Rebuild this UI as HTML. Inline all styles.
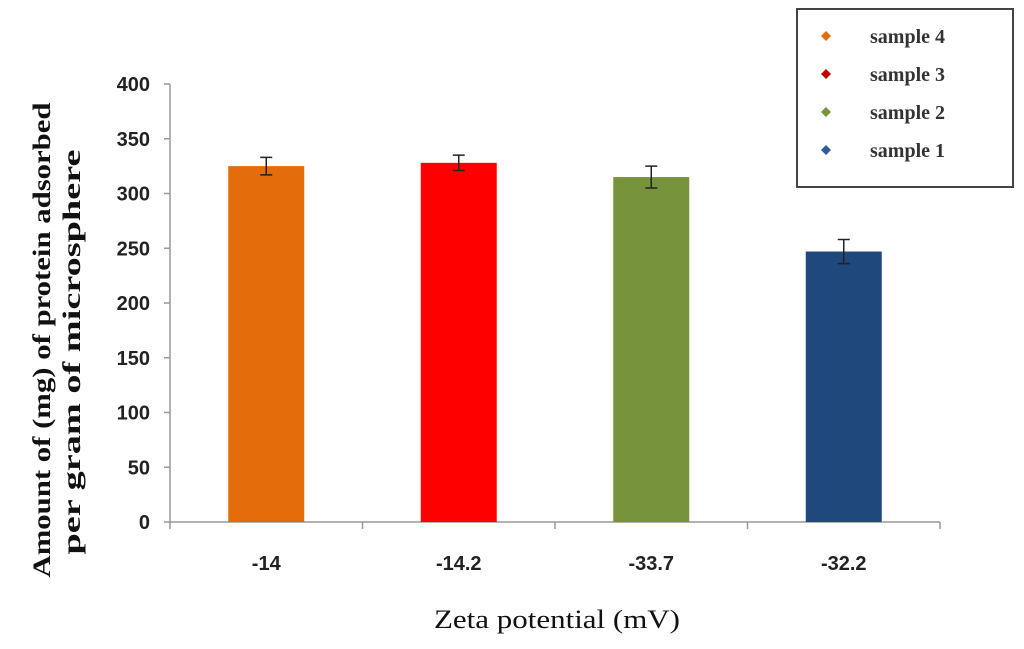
<!DOCTYPE html>
<html><head><meta charset="utf-8"><style>
body{margin:0;background:#fff;width:1024px;height:649px;overflow:hidden}
svg{display:block}
text{font-family:"Liberation Sans",sans-serif}
</style></head><body>
<svg id="chart" width="1024" height="649">
<g id="plot"></g>
<text x="557" y="628" text-anchor="middle" font-size="26" fill="#111" textLength="246" lengthAdjust="spacingAndGlyphs" style="font-family:'Liberation Serif',serif">Zeta potential (mV)</text>
<text transform="translate(50,340) rotate(-90)" text-anchor="middle" font-size="25" font-weight="bold" fill="#111" textLength="475" lengthAdjust="spacingAndGlyphs" style="font-family:'Liberation Serif',serif">Amount of (mg) of protein adsorbed</text>
<text transform="translate(80,352) rotate(-90)" text-anchor="middle" font-size="25" font-weight="bold" fill="#111" textLength="405" lengthAdjust="spacingAndGlyphs" style="font-family:'Liberation Serif',serif">per gram of microsphere</text>
<g>
<rect x="797" y="9" width="216" height="178" fill="#fff" stroke="#444" stroke-width="2"/>
<g id="legend"></g>
</g>
</svg>
<script>
const categories=["-14","-14.2","-33.7","-32.2"];
const values=[325,328,315,247];
const errors=[8,7,10,11];
const colors=["#e46c0a","#ff0000","#77933c","#1f497d"];
const yTicks=[0,50,100,150,200,250,300,350,400];
const legendLabels=["sample 4","sample 3","sample 2","sample 1"];
const legendColors=["#e46c0a","#c00000","#77933c","#2e5c9e"];
const NS="http://www.w3.org/2000/svg";
const x0=170,x1=940,y0=522,yTop=84,yMax=400;
const y=v=>y0-(v/yMax)*(y0-yTop);
const bw=(x1-x0)/categories.length;
const xc=i=>x0+bw*(i+0.5);
const g=document.getElementById('plot');
function mk(t,a,p){const e=document.createElementNS(NS,t);for(const k in a)e.setAttribute(k,a[k]);(p||g).appendChild(e);return e;}
let ax=mk('line',{x1:x0,y1:yTop,x2:x0,y2:y0,stroke:'#999','stroke-width':1.5});


let bx=mk('line',{x1:x0,y1:y0,x2:x1,y2:y0,stroke:'#999','stroke-width':1.5});


yTicks.forEach(t=>{
 mk('line',{x1:x0-6,x2:x0,y1:y(t),y2:y(t),stroke:'#999','stroke-width':1.5});
 const tx=mk('text',{x:150,y:y(t)+7,'text-anchor':'end','font-size':20,'font-weight':'bold',fill:'#222'});
 tx.textContent=t;
 
 
});
for(let i=0;i<=categories.length;i++)mk('line',{x1:x0+bw*i,x2:x0+bw*i,y1:y0,y2:y0+7,stroke:'#999','stroke-width':1.5});
categories.forEach((c,i)=>{
 const cx=xc(i),w=76;
 const r=mk('rect',{x:cx-w/2,y:y(values[i]),width:w,height:y0-y(values[i]),fill:colors[i]});
 
 
 const hi=y(values[i]+errors[i]),lo=y(values[i]-errors[i]);
 const eb=mk('path',{d:`M${cx},${hi}V${lo}M${cx-6},${hi}H${cx+6}M${cx-6},${lo}H${cx+6}`,stroke:'#222','stroke-width':1.5,fill:'none'});
 
 
 const tx=mk('text',{x:cx,y:y0+48,'text-anchor':'middle','font-size':20,'font-weight':'bold',fill:'#222'});
 tx.textContent=c;
 
 
});
const lg=document.getElementById('legend');
legendLabels.forEach((l,i)=>{
 const yy=36+i*38;
 const d=mk('path',{d:`M826,${yy-5}L831,${yy}L826,${yy+5}L821,${yy}Z`,fill:legendColors[i]},lg);
 
 
 const t=mk('text',{x:870,y:yy+7,'font-size':20,'font-weight':'bold',fill:'#333',style:"font-family:'Liberation Serif',serif"},lg);
 t.textContent=l;
 
 
});
</script>
</body></html>
